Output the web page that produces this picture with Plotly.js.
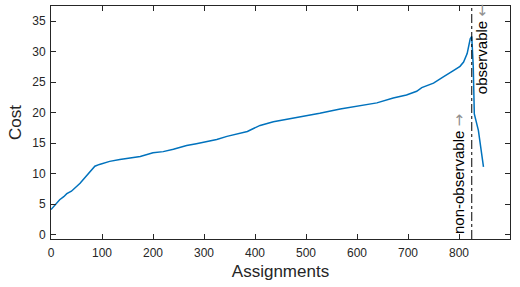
<!DOCTYPE html>
<html>
<head>
<meta charset="utf-8">
<script src="https://cdn.plot.ly/plotly-3.0.1.min.js"></script>
<style>html,body{margin:0;padding:0;background:#fff;}#chart{width:520px;height:287px;}</style>
</head>
<body>
<div id="chart"></div>
<script>
const assignments = [0,5,10,17,25,31,40,50,57,65,73,80,86,95,103,115,135,155,175,200,220,240,266,285,305,325,345,370,385,397,410,436,462,501,527,567,599,639,671,697,717,727,750,763,770,789,802,809,816,822,825,828,830,838,844,848];
const cost = [4.1,4.6,5.0,5.7,6.2,6.7,7.1,7.8,8.4,9.2,10.0,10.6,11.2,11.5,11.75,12.0,12.3,12.6,12.8,13.4,13.6,14.0,14.6,14.9,15.2,15.6,16.1,16.6,16.9,17.4,17.9,18.5,18.9,19.4,19.9,20.6,21.1,21.6,22.4,22.9,23.5,24.1,24.85,25.6,25.9,26.9,27.6,28.3,29.7,32.1,32.5,27.5,19.8,17.1,13.8,11.1];
const boundaryX = 825;
const xTicks = [0,100,200,300,400,500,600,700,800,900];
const yTicks = [0,5,10,15,20,25,30,35];
const labelNonObs = "non-observable";
const labelObs = "observable";

const font = "Liberation Sans, Arial, sans-serif";
const axisCol = "#262626";
const arrowSpan = (ch) => " <span style='color:#909090;font-family:DejaVu Sans'>" + ch + "</span>";

const data = [{
  x: assignments, y: cost, type: "scatter", mode: "lines",
  line: {color: "#0072BD", width: 1.5}, hoverinfo: "skip"
}];

const layout = {
  width: 520, height: 287,
  margin: {l: 51, r: 10, t: 6, b: 48},
  paper_bgcolor: "#fff", plot_bgcolor: "#fff",
  showlegend: false,
  font: {family: font, color: axisCol},
  xaxis: {
    range: [0, 900], tickvals: xTicks, ticktext: xTicks.map(String),
    ticks: "inside", ticklen: 5, tickcolor: axisCol, tickwidth: 1,
    showline: true, linecolor: axisCol, linewidth: 1, mirror: "ticks",
    showgrid: false, zeroline: false, ticklabelstandoff: 3,
    tickfont: {family: font, size: 12, color: axisCol},
    title: {text: "Assignments", font: {family: font, size: 17, color: axisCol}, standoff: 5}
  },
  yaxis: {
    range: [-0.74, 37.5], tickvals: yTicks, ticktext: yTicks.map(String),
    ticks: "inside", ticklen: 5, tickcolor: axisCol, tickwidth: 1,
    showline: true, linecolor: axisCol, linewidth: 1, mirror: "ticks",
    showgrid: false, zeroline: false, ticklabelstandoff: 2,
    tickfont: {family: font, size: 12, color: axisCol},
    title: {text: "Cost", font: {family: font, size: 17, color: axisCol}, standoff: 6}
  },
  shapes: [{
    type: "line", xref: "x", yref: "paper", x0: boundaryX, x1: boundaryX, y0: 0, y1: 1,
    line: {color: "#000", width: 1, dash: "dashdot"}
  }],
  annotations: [
    {x: 799, y: 10.0, xref: "x", yref: "y", textangle: -90, showarrow: false,
     text: labelNonObs + arrowSpan("→"),
     font: {family: font, size: 15, color: "#000"}, xanchor: "center", yanchor: "middle"},
    {x: 845, y: 30.4, xref: "x", yref: "y", textangle: -90, showarrow: false,
     text: labelObs + arrowSpan("←"),
     font: {family: font, size: 15, color: "#000"}, xanchor: "center", yanchor: "middle"}
  ]
};

Plotly.newPlot("chart", data, layout, {staticPlot: true, displayModeBar: false});
</script>
</body>
</html>
